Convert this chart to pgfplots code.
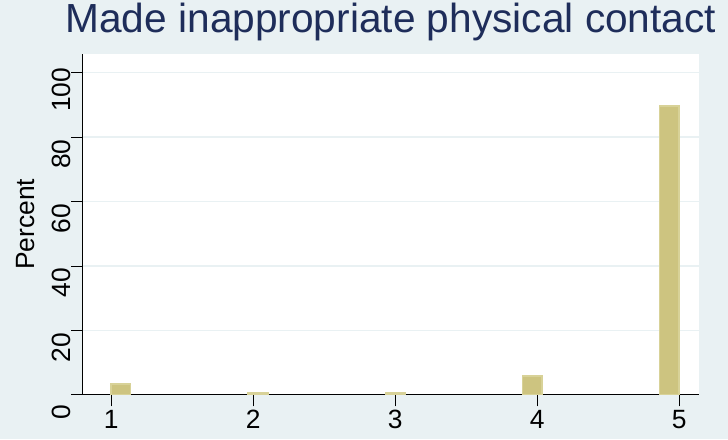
\documentclass[border=0pt]{standalone}
\usepackage{pgfplots}
\pgfplotsset{compat=1.18}
\usepackage{fontspec}
\setmainfont{Liberation Sans}
\definecolor{bg}{RGB}{233,241,243}
\definecolor{gridc}{RGB}{233,241,243}
\definecolor{titlec}{RGB}{30,45,90}
\definecolor{barfill}{RGB}{205,196,128}
\definecolor{barline}{RGB}{216,210,152}
\begin{document}
\begin{tikzpicture}[x=1bp,y=1bp]
\fill[bg] (0,0) rectangle (728,439);
\begin{axis}[
  at={(82.7bp,44.7bp)}, anchor=south west,
  scale only axis, width=616.3bp, height=341bp,
  xmin=0.80, xmax=5.14, ymin=0, ymax=105.9,
  axis background/.style={fill=white},
  axis lines*=left,
  axis line style={black, line width=0.8pt},
  tick align=outside,
  major tick length=11.5bp,
  tick style={black, line width=0.8pt},
  xtick={1,2,3,4,5}, ytick={0,20,40,60,80,100},
  ymajorgrids, grid style={gridc, line width=1.5pt},
  /pgf/number format/assume math mode=true,
  ticklabel style={font=\fontsize{26.5}{26.5}\selectfont},
  yticklabel style={rotate=90, anchor=south, inner sep=0pt, xshift=-17bp},
  xticklabel style={anchor=north, inner sep=0pt, yshift=-4bp},
  ylabel={Percent},
  every axis y label/.style={at={(axis description cs:-0.092,0.5)}, rotate=90, anchor=center, font=\fontsize{26.5}{26.5}\selectfont},
  title={Made inappropriate physical contact},
  title style={at={(axis description cs:0.5,1)}, anchor=base, yshift=15bp, font=\fontsize{40.8}{40.8}\selectfont, text=titlec},
]
\addplot[fill=barfill, draw=barline, line width=1.5bp] coordinates {(1,0)(1,3.3)(1.1379,3.3)(1.1379,0)} --cycle;
\addplot[fill=barfill, draw=barline, line width=1.5bp] coordinates {(1.9655,0)(1.9655,0.6)(2.1034,0.6)(2.1034,0)} --cycle;
\addplot[fill=barfill, draw=barline, line width=1.5bp] coordinates {(2.9310,0)(2.9310,0.6)(3.0690,0.6)(3.0690,0)} --cycle;
\addplot[fill=barfill, draw=barline, line width=1.5bp] coordinates {(3.8966,0)(3.8966,5.9)(4.0345,5.9)(4.0345,0)} --cycle;
\addplot[fill=barfill, draw=barline, line width=1.5bp] coordinates {(4.8621,0)(4.8621,89.6)(5,89.6)(5,0)} --cycle;
\end{axis}
\end{tikzpicture}
\end{document}
